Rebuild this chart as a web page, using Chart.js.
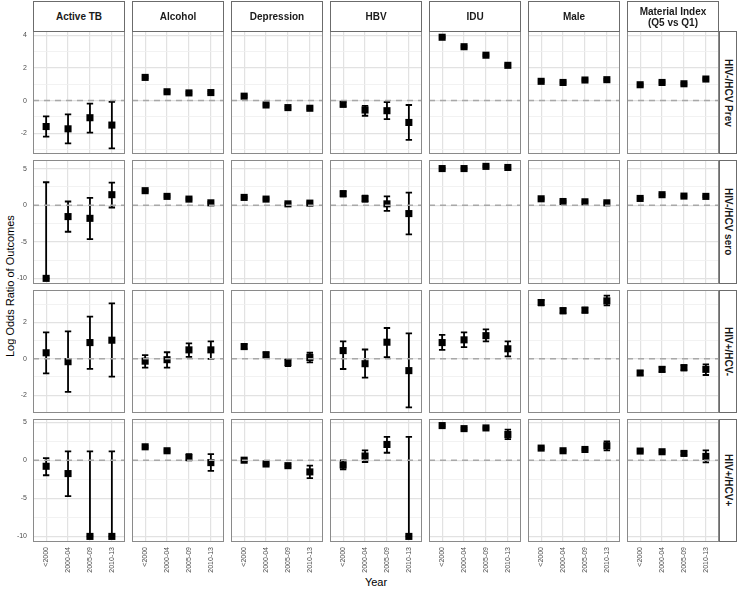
<!DOCTYPE html>
<html>
<head>
<meta charset="utf-8">
<script src="https://cdn.jsdelivr.net/npm/chart.js@4"></script>
<style>
  body { margin: 0; background: #fff; font-family: Arial, "Liberation Sans", sans-serif; }
  #wrap { position: relative; width: 739px; height: 589px; overflow: hidden; background: #fff; }
  #wrap canvas { position: absolute; }
  .strip { position: absolute; box-sizing: border-box; border: 1px solid #6b6b6b; background: #fff;
           font-weight: bold; font-size: 10px; line-height: 11px; color: #1a1a1a;
           display: flex; align-items: center; justify-content: center; text-align: center; }
  .side { writing-mode: vertical-rl; }
  #ytitle { position: absolute; left: 3px; top: 31px; height: 511px; width: 14px; font-size: 11px;
            writing-mode: vertical-rl; transform: rotate(180deg); display: flex; align-items: center; justify-content: center; }
  #xtitle { position: absolute; left: 33px; width: 686px; top: 576px; font-size: 11px; text-align: center; }
</style>
</head>
<body>
<div id="wrap">
  <div id="ytitle">Log Odds Ratio of Outcomes</div>
  <div id="xtitle">Year</div>
</div>
<script>
// categories
const years = ['<2000', '2000-04', '2005-09', '2010-13'];
const factors = ['Active TB', 'Alcohol', 'Depression', 'HBV', 'IDU', 'Male', 'Material Index<br>(Q5 vs Q1)'];
const outcomes = ['HIV-/HCV Prev', 'HIV-/HCV sero', 'HIV+/HCV-', 'HIV+/HCV+'];

// tick labels (major breaks) for each row
const rowTicks = [[-2, 0, 2, 4], [-10, -5, 0, 5], [-2, 0, 2], [-10, -5, 0, 5]];

// HIV-/HCV Prev : one row per factor, one value per year
const prevEst = [[-1.59, -1.73, -1.05, -1.50], [1.42, 0.54, 0.47, 0.49], [0.27, -0.27, -0.43, -0.47],
  [-0.23, -0.58, -0.62, -1.34], [3.88, 3.30, 2.78, 2.16], [1.18, 1.11, 1.26, 1.28], [0.97, 1.11, 1.03, 1.32]];
const prevLo = [[-2.21, -2.62, -1.96, -2.93], [1.36, 0.48, 0.41, 0.42], [0.21, -0.33, -0.49, -0.53],
  [-0.36, -0.93, -1.13, -2.41], [3.84, 3.25, 2.73, 2.11], [1.13, 1.05, 1.21, 1.23], [0.91, 1.05, 0.97, 1.26]];
const prevHi = [[-0.97, -0.85, -0.19, -0.08], [1.48, 0.60, 0.53, 0.57], [0.33, -0.21, -0.37, -0.41],
  [-0.10, -0.33, -0.10, -0.27], [3.92, 3.35, 2.83, 2.21], [1.23, 1.17, 1.31, 1.33], [1.03, 1.17, 1.09, 1.38]];

// HIV-/HCV sero
const seroEst = [[-10, -1.56, -1.80, 1.43], [1.98, 1.20, 0.83, 0.32], [1.06, 0.83, 0.18, 0.28],
  [1.56, 0.87, 0.18, -1.15], [5.00, 5.00, 5.30, 5.15], [0.87, 0.50, 0.46, 0.32], [0.92, 1.43, 1.24, 1.20]];
const seroLo = [[-10, -3.63, -4.65, -0.32], [1.86, 1.08, 0.71, 0.20], [0.94, 0.71, 0.06, 0.16],
  [1.20, 0.50, -0.78, -4.00], [4.90, 4.90, 5.20, 5.05], [0.77, 0.40, 0.36, 0.22], [0.82, 1.33, 1.14, 1.10]];
const seroHi = [[3.13, 0.50, 1.00, 3.08], [2.10, 1.32, 0.95, 0.44], [1.18, 0.95, 0.30, 0.40],
  [1.90, 1.30, 1.20, 1.70], [5.10, 5.10, 5.40, 5.25], [0.97, 0.60, 0.56, 0.42], [1.02, 1.53, 1.34, 1.30]];

// HIV+/HCV-
const posNegEst = [[0.33, -0.16, 0.89, 1.02], [-0.13, -0.05, 0.49, 0.49], [0.67, 0.22, -0.20, 0.07],
  [0.45, -0.27, 0.91, -0.65], [0.89, 1.04, 1.27, 0.55], [3.09, 2.64, 2.67, 3.18], [-0.78, -0.58, -0.49, -0.58]];
const posNegLo = [[-0.80, -1.82, -0.55, -0.98], [-0.49, -0.49, 0.11, 0.00], [0.55, 0.10, -0.40, -0.20],
  [-0.56, -1.04, 0.09, -2.67], [0.49, 0.64, 0.96, 0.13], [2.93, 2.50, 2.53, 2.93], [-0.90, -0.72, -0.63, -0.89]];
const posNegHi = [[1.45, 1.51, 2.31, 3.04], [0.20, 0.36, 0.85, 0.96], [0.80, 0.35, -0.05, 0.33],
  [0.96, 0.51, 1.69, 1.40], [1.31, 1.45, 1.62, 0.96], [3.22, 2.78, 2.81, 3.47], [-0.66, -0.45, -0.35, -0.31]];

// HIV+/HCV+
const posPosEst = [[-0.78, -1.74, -10, -10], [1.78, 1.26, 0.39, -0.30], [0.02, -0.48, -0.70, -1.52],
  [-0.60, 0.57, 2.09, -10], [4.57, 4.17, 4.26, 3.39], [1.61, 1.26, 1.43, 1.91], [1.22, 1.13, 0.91, 0.52]];
const posPosLo = [[-1.96, -4.70, -10, -10], [1.65, 1.13, 0.00, -1.39], [-0.10, -0.60, -0.85, -2.35],
  [-1.17, -0.22, 1.00, -10], [4.44, 4.05, 4.14, 2.78], [1.48, 1.14, 1.30, 1.30], [1.10, 1.01, 0.70, -0.26]];
const posPosHi = [[0.30, 1.17, 1.17, 1.17], [1.91, 1.39, 0.80, 0.83], [0.14, -0.36, -0.55, -0.70],
  [0.00, 1.30, 3.09, 3.09], [4.70, 4.29, 4.38, 4.04], [1.74, 1.38, 1.56, 2.48], [1.34, 1.25, 1.15, 1.30]];

const estRows = [prevEst, seroEst, posNegEst, posPosEst];
const loRows = [prevLo, seroLo, posNegLo, posPosLo];
const hiRows = [prevHi, seroHi, posNegHi, posPosHi];

Chart.defaults.font.family = 'Arial, "Liberation Sans", sans-serif';

const wrap = document.getElementById('wrap');
const colLeft = c => Math.round(33 + c * 98.93);
const colRight = c => Math.round(33 + c * 98.93 + 92.4);
const rowTop = r => Math.round(31 + r * 129.25);
const rowBottom = r => Math.round(31 + r * 129.25 + 123.25);
const yAxisW = 33, xAxisH = 47;

// error bars under the points
const errorBars = {
  id: 'errorBars',
  beforeDatasetsDraw(chart, args, opts) {
    const { ctx, scales: { x, y } } = chart;
    ctx.save();
    ctx.strokeStyle = '#000';
    ctx.lineWidth = 1.8;
    opts.lo.forEach((v, i) => {
      const px = x.getPixelForValue(i + 1);
      const p1 = y.getPixelForValue(v), p2 = y.getPixelForValue(opts.hi[i]);
      ctx.beginPath();
      ctx.moveTo(px, p1); ctx.lineTo(px, p2);
      ctx.moveTo(px - 3.2, p1); ctx.lineTo(px + 3.2, p1);
      ctx.moveTo(px - 3.2, p2); ctx.lineTo(px + 3.2, p2);
      ctx.stroke();
    });
    ctx.restore();
  }
};

// dashed reference line at 0 and the panel frame
const zeroLine = {
  id: 'zeroLine',
  afterDatasetsDraw(chart) {
    const { ctx, chartArea: a, scales: { y } } = chart;
    const py = y.getPixelForValue(0);
    ctx.save();
    ctx.setLineDash([6, 5]);
    ctx.strokeStyle = '#a8a8a8';
    ctx.lineWidth = 1.5;
    ctx.beginPath();
    ctx.moveTo(a.left, py); ctx.lineTo(a.right, py);
    ctx.stroke();
    ctx.restore();
  },
  afterDraw(chart) {
    const { ctx, chartArea: a } = chart;
    ctx.save();
    ctx.strokeStyle = '#8a8a8a';
    ctx.lineWidth = 1;
    ctx.strokeRect(a.left + 0.5, a.top + 0.5, a.right - a.left - 1, a.bottom - a.top - 1);
    ctx.restore();
  }
};

function rowRange(r) {
  let lo = Infinity, hi = -Infinity;
  [estRows[r], loRows[r], hiRows[r]].forEach(m => m.forEach(a => a.forEach(v => {
    lo = Math.min(lo, v); hi = Math.max(hi, v);
  })));
  const pad = (hi - lo) * 0.05;
  return [lo - pad, hi + pad];
}

function allBreaks(majors, min, max) {
  const step = majors[1] - majors[0];
  const out = majors.slice();
  for (let v = majors[0] - step / 2; v <= max; v += step) {
    if (v >= min && !majors.includes(v)) out.push(v);
  }
  return out.sort((a, b) => a - b);
}

function zeroPad(s) { s.paddingTop = 0; s.paddingBottom = 0; s.paddingLeft = 0; s.paddingRight = 0; }

outcomes.forEach((outcome, r) => {
  const [ymin, ymax] = rowRange(r);
  const majors = rowTicks[r];
  const breaks = allBreaks(majors, ymin, ymax);
  const last = r === outcomes.length - 1;

  factors.forEach((factor, c) => {
    const first = c === 0;
    const left = first ? 0 : colLeft(c);
    const width = colRight(c) - left;
    const height = rowBottom(r) - rowTop(r) + (last ? xAxisH : 0);
    const cv = document.createElement('canvas');
    cv.width = width; cv.height = height;
    cv.style.left = left + 'px'; cv.style.top = rowTop(r) + 'px';
    wrap.appendChild(cv);

    new Chart(cv, {
      type: 'scatter',
      data: {
        datasets: [{
          data: estRows[r][c].map((v, i) => ({ x: i + 1, y: v })),
          pointStyle: 'rect',
          pointRadius: 5,
          pointBorderWidth: 0,
          backgroundColor: '#000',
          borderColor: '#000'
        }]
      },
      options: {
        responsive: false,
        animation: false,
        events: [],
        layout: { padding: 0, autoPadding: false },
        plugins: {
          legend: { display: false },
          tooltip: { enabled: false },
          errorBars: { lo: loRows[r][c], hi: hiRows[r][c] }
        },
        scales: {
          x: {
            type: 'linear', min: 0.4, max: 4.6,
            afterBuildTicks: s => { s.ticks = years.map((_, i) => ({ value: i + 1 })); },
            afterFit: s => { s.height = last ? xAxisH : 0; zeroPad(s); },
            border: { display: false },
            grid: { color: '#e2e2e2', lineWidth: 1.2, drawTicks: false },
            ticks: {
              display: last, autoSkip: false, minRotation: 90, maxRotation: 90, padding: 5,
              color: '#4d4d4d', font: { size: 7 },
              callback: v => years[v - 1]
            }
          },
          y: {
            min: ymin, max: ymax,
            afterBuildTicks: s => { s.ticks = breaks.map(v => ({ value: v })); },
            afterFit: s => { s.width = first ? yAxisW : 0; zeroPad(s); },
            border: { display: false },
            grid: {
              drawTicks: false,
              color: ctx => majors.includes(ctx.tick.value) ? '#e2e2e2' : '#efefef',
              lineWidth: ctx => majors.includes(ctx.tick.value) ? 1.2 : 0.8
            },
            ticks: {
              display: first, autoSkip: false, padding: 6,
              color: '#4d4d4d', font: { size: 7 },
              callback: v => majors.includes(v) ? String(v) : ''
            }
          }
        }
      },
      plugins: [errorBars, zeroLine]
    });
  });

  // right-hand strip
  const s = document.createElement('div');
  s.className = 'strip side';
  s.style.left = colRight(6) + 'px';
  s.style.top = rowTop(r) + 'px';
  s.style.width = '18px';
  s.style.height = (rowBottom(r) - rowTop(r)) + 'px';
  s.textContent = outcome;
  wrap.appendChild(s);
});

// top strips
factors.forEach((factor, c) => {
  const s = document.createElement('div');
  s.className = 'strip';
  s.style.left = colLeft(c) + 'px';
  s.style.top = '1px';
  s.style.width = (colRight(c) - colLeft(c)) + 'px';
  s.style.height = '31px';
  s.innerHTML = factor;
  wrap.appendChild(s);
});
</script>
</body>
</html>
